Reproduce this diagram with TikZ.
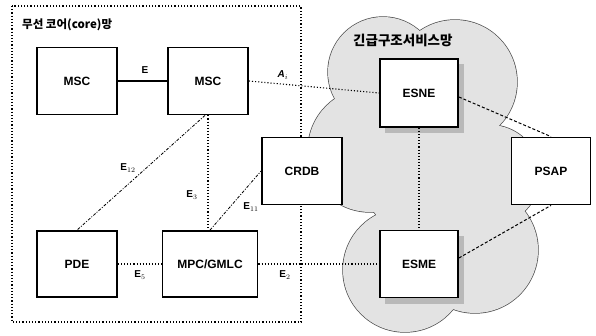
\documentclass[tikz,border=0pt]{standalone}
\usepackage{fontspec}
\setmainfont{Liberation Sans}
\newfontfamily\krfont{Noto Sans CJK KR}
\usetikzlibrary{calc}
\begin{document}
\begin{tikzpicture}[x=1pt,y=-1pt,
  box/.style={draw=black,line width=1.8pt,fill=white,minimum width=80pt,minimum height=67pt,inner sep=0pt,font=\bfseries\fontsize{12}{13}\selectfont},
  shadowbox/.style={fill=gray!55,draw=none},
  lbl/.style={inner sep=1pt,font=\bfseries\fontsize{10}{11}\selectfont},
  dotline/.style={line width=1.1pt,dotted},
  dashline/.style={line width=1pt,dash pattern=on 3pt off 2pt},
  dashdotline/.style={line width=0.8pt,dash pattern=on 3pt off 1.5pt on 1pt off 1.5pt},
  solidline/.style={line width=1.1pt},
  cloudedge/.style={draw=gray!60!black,line width=1.4pt},
  cloudfill/.style={fill=gray!22},
]
\useasboundingbox (0,0) rectangle (596,336);
\fill[white] (0,0) rectangle (596,336);

% outer dotted rectangle (wireless core network)
\draw[line width=1.2pt,dotted] (12,6) rectangle (301,322);
\node[anchor=west,inner sep=0pt,font=\krfont\bfseries\fontsize{11.5}{12}\selectfont] (coretitle) at (22,25) {무선 코어(core)망};

% cloud: outline first, then fill
\foreach \cx/\cy/\r in {383/72/55, 455/82/62, 370/150/62, 405/270/62, 475/250/63, 490/175/50, 430/170/70}
  \path[cloudedge] (\cx,\cy) circle[radius=\r pt];
\foreach \cx/\cy/\r in {383/72/55, 455/82/62, 370/150/62, 405/270/62, 475/250/63, 490/175/50, 430/170/70}
  \path[cloudfill] (\cx,\cy) circle[radius=\r pt];
\node[anchor=west,inner sep=0pt,font=\krfont\bfseries\fontsize{13.5}{14}\selectfont] (cloudtitle) at (353,40) {긴급구조서비스망};

% shadows of ESNE / ESME
\fill[shadowbox] (385,64) rectangle (464,133);
\fill[shadowbox] (385,236) rectangle (464,304);

% boxes
\node[box] (msc1) at (77,81) {MSC};
\node[box] (msc2) at (208,81) {MSC};
\node[box,minimum height=66pt] (pde) at (77,264) {PDE};
\node[box,minimum width=95pt,minimum height=66pt] (mpc) at (210,264) {MPC/GMLC};
\node[box] (crdb) at (302,171) {CRDB};
\node[box,minimum width=78pt,minimum height=68pt] (esne) at (419,93) {ESNE};
\node[box,minimum width=78pt,minimum height=67pt] (esme) at (419,264) {ESME};
\node[box,minimum width=79pt] (psap) at (551,171) {PSAP};

% connectors
\draw[solidline] (msc1) -- (msc2);
\draw[dotline] (msc2.east) -- (esne.west);
\draw[dashdotline] ($(msc2.south)+(-3,0)$) -- (pde.north);
\draw[dotline] (msc2.south) -- (msc2.south |- mpc.north);
\draw[dashdotline] (mpc.north) -- (crdb.west);
\draw[dotline,line width=1.6pt] (pde) -- (mpc);
\draw[dotline,line width=1.6pt] (mpc) -- (esme);
\draw[dotline,line width=1.6pt] (esne) -- (esme);
\draw[dashline] ($(esne.east)+(0,4)$) -- (psap.north);
\draw[dashline] ($(esme.east)+(0,-6)$) -- (psap.south);

% labels
\node[lbl] (lE) at (145,70) {E};
\node[lbl] (lAi) at (283,75) {\textit{A}$_i$};
\node[lbl] (lE12) at (128,168) {E$_{12}$};
\node[lbl] (lE3) at (192,195) {E$_3$};
\node[lbl] (lE11) at (251,207) {E$_{11}$};
\node[lbl] (lE5) at (140,275) {E$_5$};
\node[lbl] (lE2) at (285,275) {E$_2$};
\end{tikzpicture}
\end{document}
